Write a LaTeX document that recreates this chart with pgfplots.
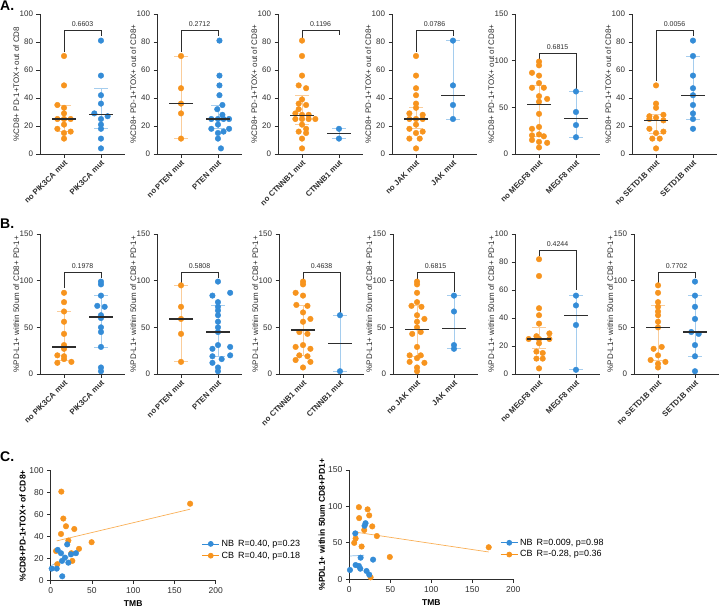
\documentclass[border=0pt]{standalone}
\usepackage{fontspec}
\setmainfont{Liberation Sans}
\usepackage{pgfplots}
\pgfplotsset{compat=1.18}
\definecolor{ora}{RGB}{247,148,30}
\definecolor{blu}{RGB}{52,140,215}
\definecolor{oral}{RGB}{250,205,155}
\definecolor{blul}{RGB}{165,205,238}
\definecolor{ink}{RGB}{45,45,45}
\newcommand{\fs}[1]{\fontsize{#1}{#1}\selectfont}

\tikzset{pv/.style={font=\fs{7}, text=ink}}
\pgfplotsset{
  base/.style={scale only axis, clip=false, axis lines=left, anchor=south west,
    axis line style={-, draw=ink, line width=0.9pt},
    tick style={draw=ink, line width=0.8pt}, tick align=outside, major tick length=3.5pt,
    tick label style={font=\fs{8}, text=ink},
    /pgf/number format/assume math mode=true},
  dot/.style={base, width=85pt, height=140pt, xmin=0.35, xmax=2.65, ymin=0, xtick={1,2},
    xticklabel style={rotate=45, anchor=north east, font=\fs{7.8}\bfseries, inner sep=1.5pt},
    ylabel style={font=\fs{8}, text=ink, at={(axis description cs:-0.28,0.5)}, anchor=center}},
  pts/.style={#1, only marks, mark=*, mark size=2.8pt, forget plot},
  whisk/.style={#1, line width=0.8pt, mark=-, mark size=7pt, forget plot},
  med/.style={only marks, mark=-, mark size=12pt, mark options={draw=ink, line width=1.3pt}, forget plot},
  brk/.style={ink, line width=0.9pt, forget plot},
  cax/.style={base, xmin=0, xmax=200, ymin=0, xtick={0,50,...,200},
    tick label style={font=\fs{8.5}},
    xlabel={TMB}, xlabel style={font=\fs{8.5}\bfseries, at={(axis description cs:0.5,-0.21)}, anchor=center},
    legend style={draw=none, fill=none, font=\fs{9}, inner sep=0pt, row sep=0pt, anchor=north west},
    legend cell align=left},
  fit/.style={#1, line width=0.7pt, forget plot}
}

\begin{document}
\begin{tikzpicture}
\useasboundingbox (0pt,0pt) rectangle (722pt,-608pt);
\node[anchor=north west, inner sep=0pt, font=\fs{14}\bfseries] at (0pt,-1pt) {A.};
\node[anchor=north west, inner sep=0pt, font=\fs{14}\bfseries] at (0pt,-219pt) {B.};
\node[anchor=north west, inner sep=0pt, font=\fs{14}\bfseries] at (0pt,-452pt) {C.};

% ---------------- row A ----------------
\begin{axis}[dot, at={(40pt,-154pt)}, ymax=100, ytick={0,20,...,100},
  xticklabels={no PIK3CA mut, PIK3CA mut}, ylabel={\%CD8+ PD-1+TOX+ out of CD8}]
\addplot[whisk=oral] coordinates {(1,16) (1,35)};
\addplot[whisk=blul] coordinates {(2,18) (2,47)};
\addplot[pts=ora] coordinates {(1,70) (1,49) (0.82,35) (1,33) (1,29) (0.82,25) (1,25) (1.18,25) (1,21) (0.82,18) (1.18,16) (1,15) (1,11)};
\addplot[pts=blu] coordinates {(2,81) (2,56) (2,42) (2,36) (1.82,29) (2.18,27) (2,25) (2,21) (2,18) (2,11) (2,4)};
\addplot[med] coordinates {(1,25) (2,28)};
\addplot[brk] coordinates {(1,73) (1,88) (2,88) (2,84)};
\node[pv] at (axis cs:1.5,93) {0.6603};
\end{axis}

\begin{axis}[dot, at={(157pt,-154pt)}, ymax=100, ytick={0,20,...,100},
  xticklabels={no PTEN mut, PTEN mut}, ylabel={\%CD8+ PD-1+TOX+ out of CD8+}]
\addplot[whisk=oral] coordinates {(1,11) (1,70)};
\addplot[whisk=blul] coordinates {(2,18) (2,35)};
\addplot[pts=ora] coordinates {(1,70) (1,47) (1,36) (1,29) (1,11)};
\addplot[pts=blu] coordinates {(2.04,81) (2.04,56) (2.04,49) (2.04,42) (2.12,35) (1.98,32) (2.12,28) (1.82,25) (2,25) (2.15,25) (2.3,25) (2,21) (1.82,18) (2.3,18) (2.15,16) (2,15) (2,11) (2.08,4)};
\addplot[med] coordinates {(1,36) (2,25)};
\addplot[brk] coordinates {(1,73) (1,88) (2,88) (2,84)};
\node[pv] at (axis cs:1.5,93) {0.2712};
\end{axis}

\begin{axis}[dot, at={(278pt,-154pt)}, ymax=100, ytick={0,20,...,100},
  xticklabels={no CTNNB1 mut, CTNNB1 mut}, ylabel={\%CD8+ PD-1+TOX+ out of CD8+}]
\addplot[whisk=oral] coordinates {(1,21) (1,42)};
\addplot[whisk=blul] coordinates {(2,11) (2,18)};
\addplot[pts=ora] coordinates {(1,81) (1,70) (1,56) (0.91,49) (1.11,47) (1,39) (0.91,36) (1.11,35) (0.91,32) (0.82,29) (1,28) (1.18,28) (0.82,25) (1,25) (1.18,25) (1.36,25) (1,21) (1.11,18) (0.91,16) (1.11,15) (1,11) (1,4)};
\addplot[pts=blu] coordinates {(2,18) (2,11)};
\addplot[med] coordinates {(1,27.5) (2,14.5)};
\addplot[brk] coordinates {(1,83) (1,88) (2,88) (2,85)};
\node[pv] at (axis cs:1.5,93) {0.1196};
\end{axis}

\begin{axis}[dot, at={(392pt,-154pt)}, ymax=100, ytick={0,20,...,100},
  xticklabels={no JAK mut, JAK mut}, ylabel={\%CD8+ PD-1+TOX+ out of CD8+}]
\addplot[whisk=oral] coordinates {(1,18) (1,33)};
\addplot[whisk=blul] coordinates {(2,25) (2,81)};
\addplot[pts=ora] coordinates {(1,70) (1,56) (1,47) (1,42) (1,36) (1,33) (0.82,29) (1.18,28) (0.82,25) (1,25) (1.18,25) (1,21) (0.82,18) (1.18,16) (1,15) (0.82,11) (1.1,11) (1,4)};
\addplot[pts=blu] coordinates {(2,81) (2,49) (2,35) (2,25)};
\addplot[med] coordinates {(1,25) (2,42)};
\addplot[brk] coordinates {(1,73) (1,88) (2,88) (2,84)};
\node[pv] at (axis cs:1.5,93) {0.0786};
\end{axis}

\begin{axis}[dot, at={(515pt,-154pt)}, ymax=150, ytick={0,50,100,150},
  xticklabels={no MEGF8 mut, MEGF8 mut}, ylabel={\%CD8+ PD-1+TOX+ out of CD8+}]
\addplot[whisk=oral] coordinates {(1,19) (1,73)};
\addplot[whisk=blul] coordinates {(2,18) (2,67)};
\addplot[pts=ora] coordinates {(1,99) (1,95) (0.81,87) (1,84) (1,76) (0.81,71) (1.13,71) (1,62) (1.22,59) (1,56) (1,43) (1,29) (0.81,27) (1,21) (0.81,20) (1.13,19) (0.81,15) (1,13) (1.22,12) (1,7)};
\addplot[pts=blu] coordinates {(2,67) (2,45) (2,31) (2,18)};
\addplot[med] coordinates {(1,53) (2,38)};
\addplot[brk] coordinates {(1,101.5) (1,107.5) (2,107.5) (2,70)};
\node[pv] at (axis cs:1.5,114.5) {0.6815};
\end{axis}

\begin{axis}[dot, at={(632pt,-154pt)}, ymax=100, ytick={0,20,...,100},
  xticklabels={no SETD1B mut, SETD1B mut}, ylabel={\%CD8+ PD-1+TOX+ out of CD8+}]
\addplot[whisk=oral] coordinates {(1,15) (1,28)};
\addplot[whisk=blul] coordinates {(2,25) (2,70)};
\addplot[pts=ora] coordinates {(1,49) (1,36) (1,33) (1.2,28) (0.82,27) (1,26) (0.82,25) (1.2,24) (0.82,18) (1.2,16) (1,15) (0.9,11) (1.1,11) (1,4)};
\addplot[pts=blu] coordinates {(2,81) (2,70) (2,56) (2,47) (2,42) (2,35) (2,29) (2,25) (2,18)};
\addplot[med] coordinates {(1,24) (2,42)};
\addplot[brk] coordinates {(1,52) (1,88) (2,88) (2,84)};
\node[pv] at (axis cs:1.5,93) {0.0056};
\end{axis}

% ---------------- row B ----------------
\begin{axis}[dot, at={(40pt,-374pt)}, ymax=150, ytick={0,50,100,150},
  xticklabels={no PIK3CA mut, PIK3CA mut}, ylabel={\%PD-L1+ within 50um of CD8+ PD-1+}]
\addplot[whisk=oral] coordinates {(1,15) (1,67)};
\addplot[whisk=blul] coordinates {(2,29) (2,84)};
\addplot[pts=ora] coordinates {(1,87) (1,77) (1,67) (1,56) (1,43) (1,31) (1,27) (0.82,20) (1,19) (1,16) (1.2,13) (0.82,12)};
\addplot[pts=blu] coordinates {(2,99) (2,96) (2,84) (1.9,73) (2.1,72) (2,63) (2,60) (2,50) (2,45) (2,29) (2,7) (2,3)};
\addplot[med] coordinates {(1,29) (2,61)};
\addplot[brk] coordinates {(1,92) (1,109) (2,109) (2,102.5)};
\node[pv] at (axis cs:1.5,116) {0.1978};
\end{axis}

\begin{axis}[dot, at={(157pt,-374pt)}, ymax=150, ytick={0,50,100,150},
  xticklabels={no PTEN mut, PTEN mut}, ylabel={\%PD-L1+ within 50um of CD8+ PD-1+}]
\addplot[whisk=oral] coordinates {(1,13) (1,95)};
\addplot[whisk=blul] coordinates {(2,19) (2,73)};
\addplot[pts=ora] coordinates {(1,95) (1,72) (1,59) (1,43) (1,13)};
\addplot[pts=blu] coordinates {(2,99) (2.33,87) (1.85,84) (2,77) (2,72) (2,68) (2,63) (2,56) (2,50) (2,45) (2,31) (2.33,29) (1.85,27) (2.33,20) (1.85,19) (2.1,16) (1.85,12) (2,7) (2,3)};
\addplot[med] coordinates {(1,59) (2,45)};
\addplot[brk] coordinates {(1,98) (1,109) (2,109) (2,102.5)};
\node[pv] at (axis cs:1.5,116) {0.5808};
\end{axis}

\begin{axis}[dot, at={(279pt,-374pt)}, ymax=150, ytick={0,50,100,150},
  xticklabels={no CTNNB1 mut, CTNNB1 mut}, ylabel={\%PD-L1+ within 50um of CD8+ PD-1+}]
\addplot[whisk=oral] coordinates {(1,20) (1,73)};
\addplot[whisk=blul] coordinates {(2,3) (2,63)};
\addplot[pts=ora] coordinates {(1,99) (1,96) (0.8,87) (1,84) (0.82,74) (1.12,73) (1,66) (1.2,59) (1,56) (0.9,45) (1.12,43) (1,31) (0.8,29) (1.2,27) (0.9,20) (1.12,19) (0.8,15) (1.2,13) (1,7)};
\addplot[pts=blu] coordinates {(2,63) (2,3)};
\addplot[med] coordinates {(1,47) (2,33)};
\addplot[brk] coordinates {(1,102) (1,108.5) (2,108.5) (2,65)};
\node[pv] at (axis cs:1.5,116) {0.4638};
\end{axis}

\begin{axis}[dot, at={(393pt,-374pt)}, ymax=150, ytick={0,50,100,150},
  xticklabels={no JAK mut, JAK mut}, ylabel={\%PD-L1+ within 50um of CD8+ PD-1+}]
\addplot[whisk=oral] coordinates {(1,19) (1,73)};
\addplot[whisk=blul] coordinates {(2,27) (2,84)};
\addplot[pts=ora] coordinates {(1,99) (1,96) (1,87) (1,77) (0.85,73) (1.12,72) (1,63) (1.2,59) (1,56) (1,50) (1.1,45) (0.87,43) (1,29) (0.8,20) (1.1,20) (1,17) (0.8,13) (1.2,12) (1,7) (1,3)};
\addplot[pts=blu] coordinates {(2,84) (2,67) (2,31) (2,27)};
\addplot[med] coordinates {(1,48) (2,49)};
\addplot[brk] coordinates {(1,102) (1,108.5) (2,108.5) (2,87.5)};
\node[pv] at (axis cs:1.5,116) {0.6815};
\end{axis}

\begin{axis}[dot, at={(515pt,-374pt)}, ymax=100, ytick={0,20,...,100},
  xticklabels={no MEGF8 mut, MEGF8 mut}, ylabel={\%PD-L1+ within 50um of CD8+ PD-1+}]
\addplot[whisk=oral] coordinates {(1,18) (1,33)};
\addplot[whisk=blul] coordinates {(2,3) (2,56)};
\addplot[pts=ora] coordinates {(1,82) (1,70) (1,47) (1,42) (1,36) (1.28,29) (0.93,27) (0.72,25) (1,25) (1.28,25) (1,22) (0.93,16) (1.1,15) (0.93,11) (1.1,11) (1,4)};
\addplot[pts=blu] coordinates {(2,56) (2,49) (2,35) (2,3)};
\addplot[med] coordinates {(1,25) (2,42)};
\addplot[brk] coordinates {(1,84) (1,88) (2,88) (2,60)};
\node[pv] at (axis cs:1.5,92.5) {0.4244};
\end{axis}

\begin{axis}[dot, at={(634pt,-374pt)}, ymax=150, ytick={0,50,100,150},
  xticklabels={no SETD1B mut, SETD1B mut}, ylabel={\%PD-L1+ within 50um of CD8+ PD-1+}]
\addplot[whisk=oral] coordinates {(1,15) (1,73)};
\addplot[whisk=blul] coordinates {(2,19) (2,84)};
\addplot[pts=ora] coordinates {(1,95) (1,87) (1,77) (1,72) (1,67) (1,63) (1,56) (1,50) (1.1,29) (0.88,27) (1,20) (0.8,15) (1.2,13) (1,11) (1,7)};
\addplot[pts=blu] coordinates {(2,99) (2,84) (2,72) (2,59) (1.9,45) (2.1,43) (2,31) (2,19) (2,3)};
\addplot[med] coordinates {(1,50) (2,45)};
\addplot[brk] coordinates {(1,98) (1,109) (2,109) (2,103)};
\node[pv] at (axis cs:1.5,116) {0.7702};
\end{axis}

% ---------------- row C ----------------
\begin{axis}[cax, at={(50.7pt,-580.7pt)}, width=165pt, height=110pt, ymax=100, ytick={0,20,...,100},
  ylabel={\%CD8+PD-1+TOX+ of CD8+},
  ylabel style={font=\fs{8.5}\bfseries, at={(axis description cs:-0.17,0.5)}, anchor=center},
  legend style={at={(0.915,0.39)}}]
\addplot[fit=ora!75] coordinates {(7.3,36.2) (169,65)};
\addplot[fit=blu!60] coordinates {(1.2,14) (30.6,25)};
\addplot[pts=ora] coordinates {(12.9,81) (15.3,56.5) (18.5,49.5) (12.5,42.5) (28.6,47) (21.4,36.5) (49.6,35) (34.3,29) (6.5,27) (25,25) (26.2,18) (8,15) (169,70)};
\addplot[pts=blu] coordinates {(1.2,11) (7.3,11) (8.5,28) (12.5,25) (20,33) (13.7,18) (17.3,21) (21.4,16.4) (24.6,24) (30.6,25) (14,4)};
\addlegendimage{blu, line width=0.7pt, mark=*, mark size=2.5pt}
\addlegendentry{NB\hspace{4pt}R=0.40, p=0.23}
\addlegendimage{ora, line width=0.7pt, mark=*, mark size=2.5pt}
\addlegendentry{CB\hspace{4pt}R=0.40, p=0.18}
\end{axis}

\begin{axis}[cax, at={(349.3pt,-579.3pt)}, width=164pt, height=109.3pt, ymax=150, ytick={0,50,100,150},
  ylabel={\%PDL1+ within 50um CD8+PD1+},
  ylabel style={font=\fs{8.5}\bfseries, at={(axis description cs:-0.168,0.5)}, anchor=center},
  legend style={at={(0.92,0.39)}}]
\addplot[fit=ora!75] coordinates {(6,65) (170,37.5)};
\addplot[fit=blu!60] coordinates {(0.8,32) (18,33)};
\addplot[pts=ora] coordinates {(11.7,99) (22.3,96) (12,84) (24.3,87.7) (28,72.6) (18.2,67.6) (33.6,59.4) (7.7,56) (6,50) (15,45) (49.4,30.6) (26,2.7) (170,44)};
\addplot[pts=blu] coordinates {(7.3,63) (18.6,73.5) (19.8,77) (13.8,29.7) (7.7,19.6) (11.7,18.3) (13.4,14.6) (0.8,12.8) (21,11.4) (24.3,6.4) (29,27)};
\addlegendimage{blu, line width=0.7pt, mark=*, mark size=2.5pt}
\addlegendentry{NB\hspace{4pt}R=0.009, p=0.98}
\addlegendimage{ora, line width=0.7pt, mark=*, mark size=2.5pt}
\addlegendentry{CB\hspace{4pt}R=-0.28, p=0.36}
\end{axis}
\end{tikzpicture}
\end{document}
